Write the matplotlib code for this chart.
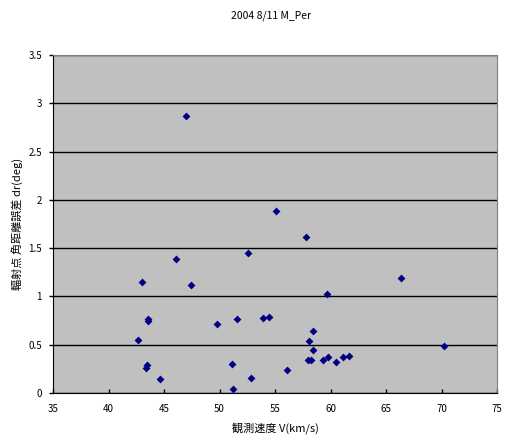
import matplotlib
matplotlib.use("Agg")
import matplotlib.pyplot as plt

plt.rcParams['font.family'] = ['Noto Sans CJK JP', 'DejaVu Sans']

# observed velocity V (km/s) and angular distance error dr (deg)
speed = [47.0, 46.1, 43.05, 47.4, 52.6, 43.6, 43.6, 49.8, 51.6, 42.7,
         43.5, 43.4, 44.6, 51.1, 51.2, 52.8, 55.05, 57.8, 66.3, 59.7,
         53.9, 54.45, 58.4, 58.1, 58.4, 58.0, 58.25, 59.3, 59.8, 60.45,
         61.1, 61.7, 56.1, 70.2]
dr = [2.87, 1.385, 1.146, 1.115, 1.446, 0.77, 0.74, 0.711, 0.763, 0.545,
      0.29, 0.26, 0.14, 0.297, 0.045, 0.152, 1.88, 1.62, 1.187, 1.02,
      0.773, 0.784, 0.638, 0.535, 0.44, 0.338, 0.338, 0.338, 0.37, 0.318,
      0.37, 0.38, 0.235, 0.483]

fig = plt.figure(figsize=(5.12, 4.42), dpi=100)
ax = fig.add_axes([0.1035, 0.111, 0.8675, 0.7646])
ax.set_facecolor('#C0C0C0')

ax.scatter(speed, dr, marker='D', s=16, color='#000080', zorder=3, linewidths=0)

ax.set_xlim(35, 75)
ax.set_ylim(0, 3.5)
ax.set_xticks(range(35, 80, 5))
ax.set_yticks([0, 0.5, 1, 1.5, 2, 2.5, 3, 3.5])
ax.set_yticklabels(['0', '0.5', '1', '1.5', '2', '2.5', '3', '3.5'])
ax.yaxis.grid(True, color='black', linewidth=1)
ax.set_axisbelow(True)
ax.tick_params(axis='x', direction='in', labelsize=7, length=3, width=1, pad=8)
ax.tick_params(axis='y', direction='out', labelsize=7, length=3, width=1, pad=5)

for side in ['top', 'right']:
    ax.spines[side].set_color('#808080')
for side in ['left', 'bottom']:
    ax.spines[side].set_color('black')

ax.set_xlabel('観測速度 V(km/s)', fontsize=8, labelpad=6)
ax.set_ylabel('輻射点 角距離誤差 dr(deg)', fontsize=8, labelpad=4)
fig.text(0.53, 0.965, '2004 8/11 M_Per', ha='center', va='center', fontsize=7.5)

fig.savefig('out.png', dpi=100)
